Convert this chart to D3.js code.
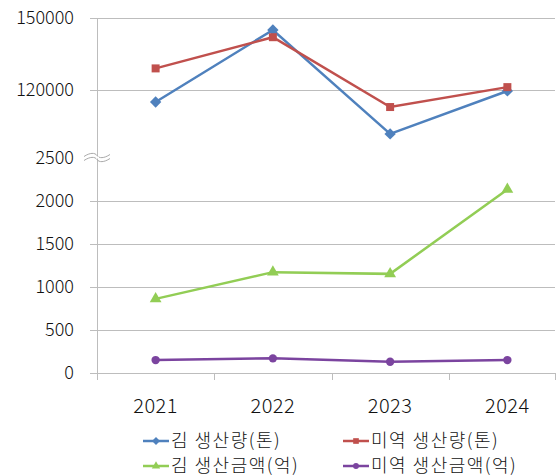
<!DOCTYPE html>
<html><head><meta charset="utf-8">
<script src="https://cdn.jsdelivr.net/npm/d3@7"></script>
<style>body{margin:0;background:#fff}svg{display:block}text{font-family:"Noto Sans CJK KR","Noto Sans",sans-serif;fill:#111;font-weight:300}</style>
</head><body>
<script>
const years = ["2021","2022","2023","2024"];
const kimVolume = [115000, 145000, 101700, 119600];
const miyeokVolume = [129000, 142000, 112900, 121200];
const kimValue = [860, 1170, 1150, 2130];
const miyeokValue = [150, 170, 130, 150];
const topTicks = [120000, 150000];
const bottomTicks = [0, 500, 1000, 1500, 2000];
const breakTick = 2500;
const seriesNames = ["김 생산량(톤)", "미역 생산량(톤)", "김 생산금액(억)", "미역 생산금액(억)"];

const W = 559, H = 476;
const svg = d3.select("body").append("svg").attr("width", W).attr("height", H);
const left = 97, right = 555;
const x = d3.scaleBand().domain(years).range([left, 566]);
const yTop = d3.scaleLinear().domain([120000, 150000]).range([90, 18]);
const yBot = d3.scaleLinear().domain([0, 2500]).range([373, 157.5]);
const cx = d => x(d) + x.bandwidth() / 2;

const grid = svg.append("g").attr("stroke", "#bdbdbd").attr("stroke-width", 1);
topTicks.forEach(t => grid.append("line").attr("x1", 90).attr("x2", right).attr("y1", Math.round(yTop(t)) + 0.5).attr("y2", Math.round(yTop(t)) + 0.5));
bottomTicks.forEach(t => grid.append("line").attr("x1", 90).attr("x2", right).attr("y1", Math.round(yBot(t)) + 0.5).attr("y2", Math.round(yBot(t)) + 0.5));
grid.append("line").attr("x1", left + 0.5).attr("x2", left + 0.5).attr("y1", 18).attr("y2", 380);
const xt = x.domain().map(d => x(d)).concat([right]);
xt.forEach(v => grid.append("line").attr("x1", Math.round(v) + 0.5).attr("x2", Math.round(v) + 0.5).attr("y1", 373).attr("y2", 380));

const brk = svg.append("g").attr("fill", "none").attr("stroke", "#aaa").attr("stroke-width", 1);
[-2, 2].forEach(o => {
  const y0 = yBot(breakTick) + o;
  brk.append("path").attr("d", `M84,${y0+1} C90,${y0-3} 95,${y0-3} 97,${y0} S104,${y0+3} 110,${y0-1}`);
});
svg.append("rect").attr("x", left - 1).attr("y", yBot(breakTick) - 1).attr("width", 3).attr("height", 2).attr("fill", "#fff");

const yl = svg.append("g").attr("font-size", 18).attr("text-anchor", "end");
topTicks.forEach(t => yl.append("text").attr("x", 74).attr("y", yTop(t)).attr("dy", "0.35em").text(t));
bottomTicks.concat([breakTick]).forEach(t => yl.append("text").attr("x", 74).attr("y", yBot(t)).attr("dy", "0.35em").text(t));

svg.append("g").attr("font-size", 20).attr("text-anchor", "middle").attr("letter-spacing", "0.5px")
  .selectAll("text").data(years).join("text")
  .attr("x", d => cx(d)).attr("y", 406).attr("dy", "0.35em").text(d => d);

const colors = ["#4F81BD", "#C0504D", "#92CD55", "#7B449F"];
const diamond = {draw(ctx, size) { const r = Math.sqrt(size / 2); ctx.moveTo(0, -r); ctx.lineTo(r, 0); ctx.lineTo(0, r); ctx.lineTo(-r, 0); ctx.closePath(); }};
const sym = [diamond, d3.symbolSquare, d3.symbolTriangle, d3.symbolCircle];
const sizes = [64, 64, 60, 55];
const series = [
  {vals: kimVolume, y: yTop},
  {vals: miyeokVolume, y: yTop},
  {vals: kimValue, y: yBot},
  {vals: miyeokValue, y: yBot}
];
series.forEach((s, i) => {
  const line = d3.line().x((d, j) => cx(years[j])).y(d => s.y(d));
  svg.append("path").attr("d", line(s.vals)).attr("fill", "none").attr("stroke", colors[i]).attr("stroke-width", 2.5);
  svg.append("g").selectAll("path").data(s.vals).join("path")
    .attr("transform", (d, j) => `translate(${cx(years[j])},${s.y(d)})`)
    .attr("d", d3.symbol().type(sym[i]).size(sizes[i])).attr("fill", colors[i]);
});

const lg = svg.append("g").attr("font-size", 18).attr("letter-spacing", "1.5px");
const pos = [[143, 441], [343, 441], [143, 466], [343, 466]];
seriesNames.forEach((n, i) => {
  const [lx, ly] = pos[i];
  lg.append("line").attr("x1", lx).attr("x2", lx + 26).attr("y1", ly).attr("y2", ly).attr("stroke", colors[i]).attr("stroke-width", 2.5);
  lg.append("path").attr("transform", `translate(${lx + 13},${ly})`).attr("d", d3.symbol().type(sym[i]).size(sizes[i] * 0.5)).attr("fill", colors[i]);
  lg.append("text").attr("x", lx + 28).attr("y", ly).attr("dy", "0.35em").text(n);
});
</script>
</body></html>
